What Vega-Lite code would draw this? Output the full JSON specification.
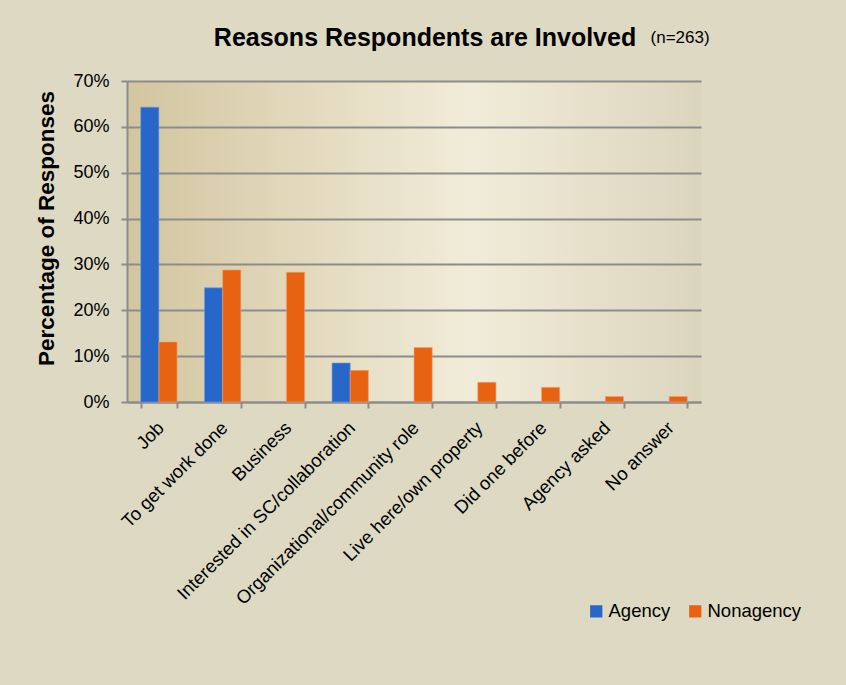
{
  "$schema": "https://vega.github.io/schema/vega-lite/v6.json",
  "width": 574,
  "height": 321,
  "autosize": {"type": "none"},
  "padding": {"left": 127, "top": 81, "right": 145, "bottom": 283},
  "background": "#DDD9C3",
  "title": {
    "text": "Reasons Respondents are Involved",
    "font": "Liberation Sans",
    "fontSize": 25,
    "fontWeight": "bold",
    "color": "#000000",
    "anchor": "middle",
    "baseline": "alphabetic",
    "dx": 11,
    "offset": -42
  },
  "layer": [
    {
      "data": {
        "values": [
          {"reason": "Job", "group": "Agency", "value": 0.643},
          {"reason": "Job", "group": "Nonagency", "value": 0.131},
          {"reason": "To get work done", "group": "Agency", "value": 0.249},
          {"reason": "To get work done", "group": "Nonagency", "value": 0.288},
          {"reason": "Business", "group": "Nonagency", "value": 0.283},
          {"reason": "Interested in SC/collaboration", "group": "Agency", "value": 0.085},
          {"reason": "Interested in SC/collaboration", "group": "Nonagency", "value": 0.069},
          {"reason": "Organizational/community role", "group": "Nonagency", "value": 0.119},
          {"reason": "Live here/own property", "group": "Nonagency", "value": 0.043},
          {"reason": "Did one before", "group": "Nonagency", "value": 0.032},
          {"reason": "Agency asked", "group": "Nonagency", "value": 0.012},
          {"reason": "No answer", "group": "Nonagency", "value": 0.012}
        ]
      },
      "mark": {"type": "bar", "strokeWidth": 1, "strokeOpacity": 0.6},
      "encoding": {
        "x": {
          "field": "reason",
          "type": "nominal",
          "sort": null,
          "scale": {
            "domain": ["Job", "To get work done", "Business", "Interested in SC/collaboration", "Organizational/community role", "Live here/own property", "Did one before", "Agency asked", "No answer"],
            "paddingInner": 0.43,
            "paddingOuter": 0.215
          },
          "axis": {
            "title": null,
            "labelAngle": -45,
            "labelAlign": "right",
            "labelBaseline": "top",
            "labelFont": "Liberation Sans",
            "labelFontSize": 18.5,
            "labelLimit": 0,
            "labelColor": "#000000",
            "labelPadding": 10,
            "labelOffset": -5,
            "tickBand": "extent",
            "tickSize": 6,
            "tickColor": "#8C8C8C",
            "tickWidth": 2,
            "domainColor": "#8C8C8C",
            "domainWidth": 2,
            "grid": false
          }
        },
        "xOffset": {
          "field": "group",
          "type": "nominal",
          "scale": {"domain": ["Agency", "Nonagency"], "paddingInner": 0, "paddingOuter": 0}
        },
        "y": {
          "field": "value",
          "type": "quantitative",
          "scale": {"domain": [0, 0.7], "nice": false},
          "axis": {
            "title": "Percentage of Responses",
            "titleFont": "Liberation Sans",
            "titleFontSize": 22.5,
            "titleFontWeight": "bold",
            "titleColor": "#000000",
            "titlePadding": 14,
            "titleY": 147,
            "format": ".0%",
            "values": [0, 0.1, 0.2, 0.3, 0.4, 0.5, 0.6, 0.7],
            "labelFont": "Liberation Sans",
            "labelFontSize": 18,
            "labelColor": "#000000",
            "labelPadding": 12,
            "tickSize": 6,
            "tickColor": "#8C8C8C",
            "tickWidth": 2,
            "domainColor": "#8C8C8C",
            "domainWidth": 2,
            "grid": true,
            "gridColor": "#8C8C8C",
            "gridWidth": 2
          }
        },
        "color": {
          "field": "group",
          "type": "nominal",
          "scale": {"domain": ["Agency", "Nonagency"], "range": ["#2767C9", "#E76311"]},
          "legend": {
            "title": null,
            "orient": "none",
            "direction": "horizontal",
            "legendX": 460,
            "legendY": 521,
            "symbolType": "square",
            "symbolSize": 150,
            "symbolStrokeWidth": 0,
            "labelFont": "Liberation Sans",
            "labelFontSize": 18.5,
            "labelColor": "#000000",
            "labelOffset": 3,
            "columnPadding": 15
          }
        },
        "stroke": {
          "field": "group",
          "type": "nominal",
          "scale": {"domain": ["Agency", "Nonagency"], "range": ["#6F9BE0", "#F5A070"]},
          "legend": null
        }
      }
    },
    {
      "data": {"values": [{"note": "(n=263)", "reason": "No answer", "pos": 0.782}]},
      "mark": {"type": "text", "font": "Liberation Sans", "fontSize": 17, "align": "center", "baseline": "alphabetic", "dx": 11, "fill": "#000000"},
      "encoding": {
        "x": {"field": "reason", "type": "nominal"},
        "y": {"field": "pos", "type": "quantitative"},
        "text": {"field": "note"}
      }
    }
  ],
  "config": {
    "view": {
      "stroke": null,
      "fill": {
        "gradient": "linear",
        "x1": 0, "y1": 0, "x2": 1, "y2": 0,
        "stops": [
          {"offset": 0, "color": "#D3C59F"},
          {"offset": 0.6, "color": "#F1ECD9"},
          {"offset": 1, "color": "#DCD5BE"}
        ]
      }
    }
  }
}
